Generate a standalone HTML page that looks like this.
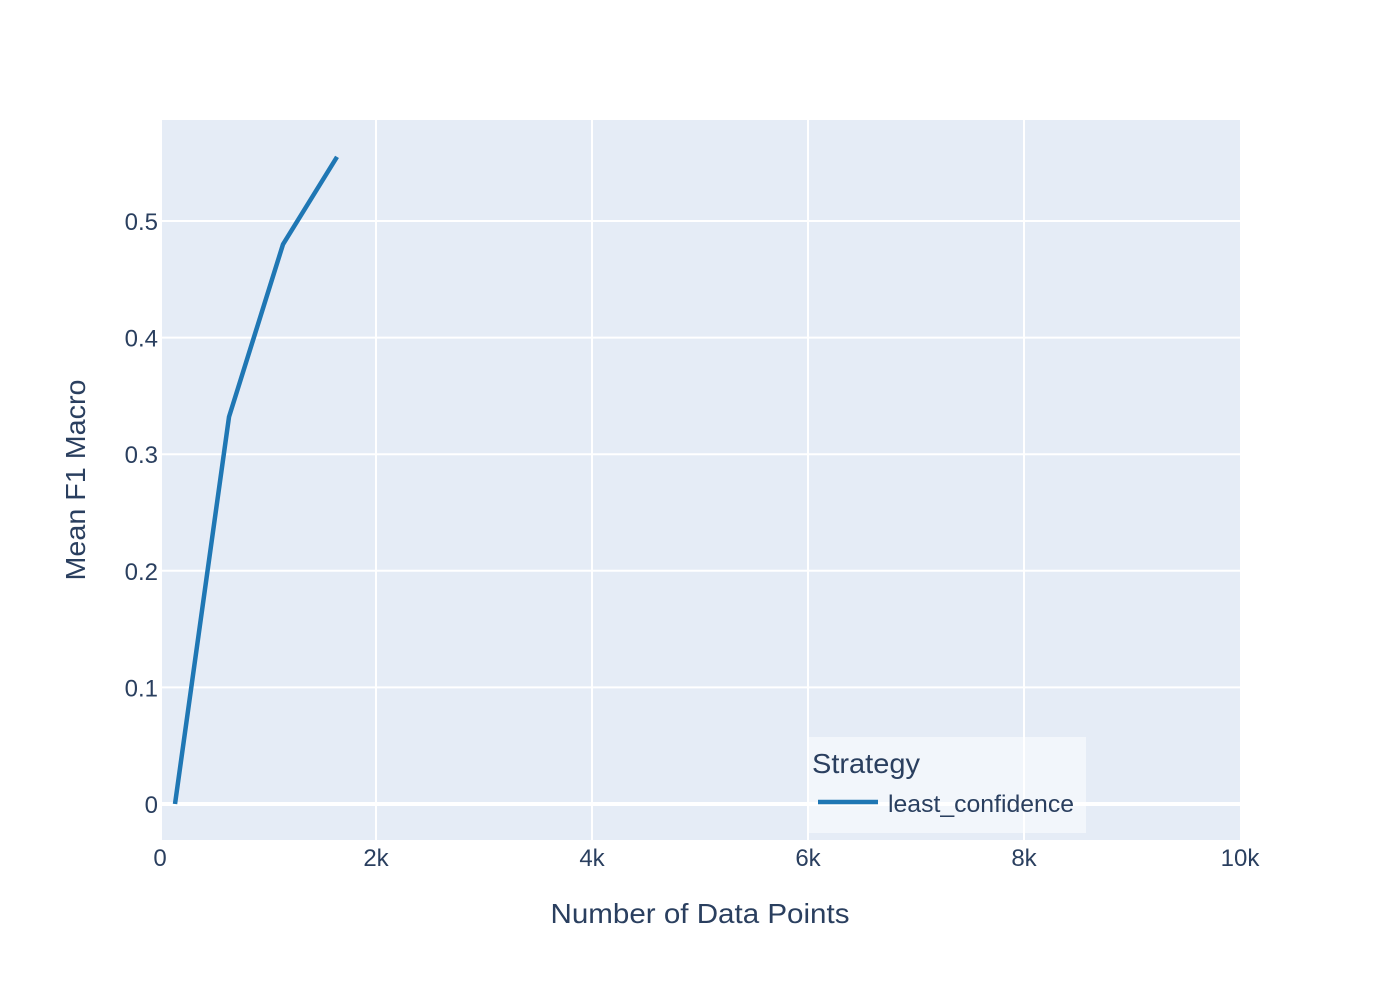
<!DOCTYPE html>
<html lang="en">
<head>
<meta charset="utf-8">
<title>Mean F1 Macro vs Number of Data Points</title>
<style>
html,body{margin:0;padding:0;background:#fff;}
svg{display:block;}
text{font-family:"Liberation Sans",sans-serif;fill:#2a3f5f;}
</style>
</head>
<body>
<svg id="chart" xmlns="http://www.w3.org/2000/svg" width="1400" height="1000" viewBox="0 0 1400 1000">
  <rect x="0" y="0" width="1400" height="1000" fill="#ffffff"/>
  <rect x="162" y="120" width="1078" height="720" fill="#e5ecf6"/>
  <g id="grid"></g>
  <g id="ticks"></g>
  <g id="series"></g>
  <g>
    <rect x="808" y="737" width="278" height="96" fill="#ffffff" fill-opacity="0.5"/>
    <text x="812" y="773" font-size="28" textLength="108" lengthAdjust="spacingAndGlyphs">Strategy</text>
    <line x1="818" y1="802" x2="878" y2="802" stroke="#1f77b4" stroke-width="4.5"/>
    <text x="888" y="812" font-size="24" textLength="186" lengthAdjust="spacingAndGlyphs">least_confidence</text>
  </g>
  <text x="700" y="923" font-size="28" text-anchor="middle" textLength="299" lengthAdjust="spacingAndGlyphs">Number of Data Points</text>
  <text x="0" y="0" transform="translate(85,480) rotate(-90)" font-size="28" text-anchor="middle" textLength="201" lengthAdjust="spacingAndGlyphs">Mean F1 Macro</text>
</svg>
<script>
const xValues = [139, 639, 1139, 1639];
const yValues = [0, 0.332, 0.48, 0.555];
const xTickValues = [0, 2000, 4000, 6000, 8000, 10000];
const xTickLabels = ['0', '2k', '4k', '6k', '8k', '10k'];
const yTickValues = [0, 0.1, 0.2, 0.3, 0.4, 0.5];
const yTickLabels = ['0', '0.1', '0.2', '0.3', '0.4', '0.5'];

const NS = 'http://www.w3.org/2000/svg';
const plotLeft = 162, plotRight = 1240, plotTop = 120, plotBottom = 840;
function xScale(v) { return 160 + v * 0.108; }
function yScale(v) { return 804 - v * 1166; }

const grid = document.getElementById('grid');
const ticks = document.getElementById('ticks');
const series = document.getElementById('series');

xTickValues.forEach(function (v, i) {
  const px = xScale(v);
  if (px > plotLeft && px < plotRight) {
    const g = document.createElementNS(NS, 'line');
    
    
    g.setAttribute('x1', px);
    g.setAttribute('x2', px);
    g.setAttribute('y1', plotTop);
    g.setAttribute('y2', plotBottom);
    g.setAttribute('stroke', '#ffffff');
    g.setAttribute('stroke-width', '2');
    grid.appendChild(g);
  }
  const t = document.createElementNS(NS, 'text');
  
  
  t.setAttribute('x', px);
  t.setAttribute('y', 866);
  t.setAttribute('font-size', '24');
  t.setAttribute('text-anchor', 'middle');
  t.textContent = xTickLabels[i];
  ticks.appendChild(t);
});

yTickValues.forEach(function (v, i) {
  const py = yScale(v);
  const g = document.createElementNS(NS, 'line');
  
  
  g.setAttribute('x1', plotLeft);
  g.setAttribute('x2', plotRight);
  g.setAttribute('y1', py);
  g.setAttribute('y2', py);
  g.setAttribute('stroke', '#ffffff');
  g.setAttribute('stroke-width', v === 0 ? '4' : '2');
  grid.appendChild(g);
  const t = document.createElementNS(NS, 'text');
  
  
  t.setAttribute('x', 158);
  t.setAttribute('y', py + 9);
  t.setAttribute('font-size', '24');
  t.setAttribute('text-anchor', 'end');
  t.textContent = yTickLabels[i];
  ticks.appendChild(t);
});

const line = document.createElementNS(NS, 'polyline');


line.setAttribute('points', xValues.map(function (x, i) {
  return xScale(x) + ',' + yScale(yValues[i]);
}).join(' '));
line.setAttribute('fill', 'none');
line.setAttribute('stroke', '#1f77b4');
line.setAttribute('stroke-width', '4.5');
line.setAttribute('stroke-linejoin', 'round');
series.appendChild(line);
</script>
</body>
</html>
